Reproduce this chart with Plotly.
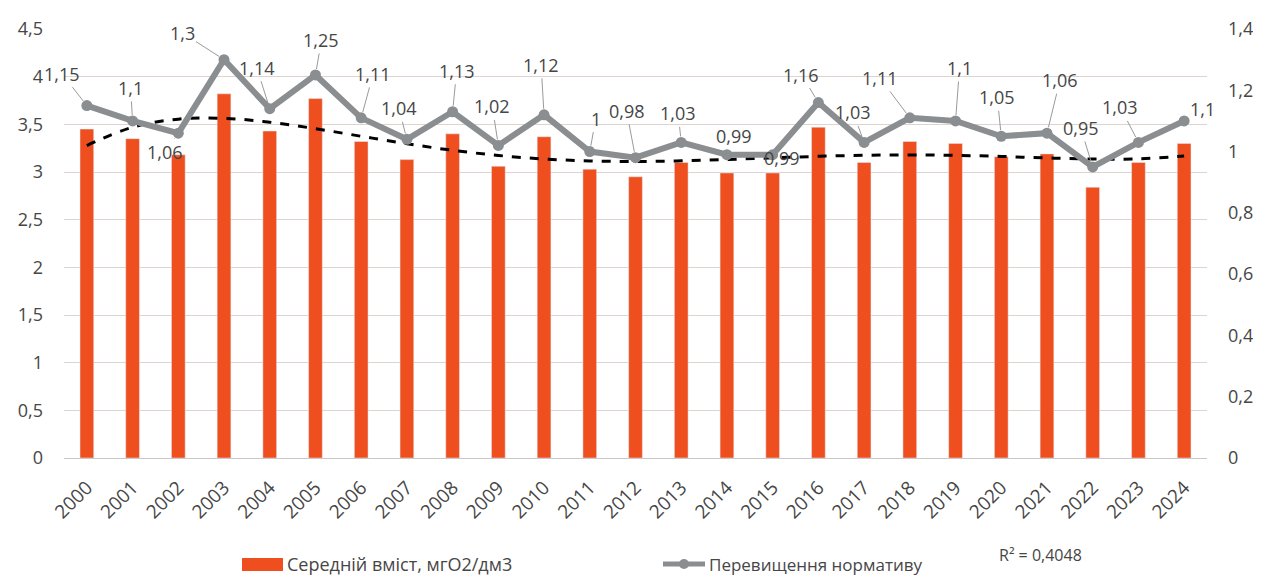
import numpy as np
import plotly.graph_objects as go

years = [str(y) for y in range(2000, 2025)]
avg_content = [3.45, 3.35, 3.18, 3.82, 3.43, 3.77, 3.32, 3.13, 3.40, 3.06, 3.37, 3.03, 2.95,
               3.10, 2.99, 2.99, 3.47, 3.10, 3.32, 3.30, 3.16, 3.19, 2.84, 3.10, 3.30]
exceedance = [1.15, 1.1, 1.06, 1.3, 1.14, 1.25, 1.11, 1.04, 1.13, 1.02, 1.12, 1, 0.98,
              1.03, 0.99, 0.99, 1.16, 1.03, 1.11, 1.1, 1.05, 1.06, 0.95, 1.03, 1.1]
left_ticks = [0, 0.5, 1, 1.5, 2, 2.5, 3, 3.5, 4, 4.5]
right_ticks = [0, 0.2, 0.4, 0.6, 0.8, 1, 1.2, 1.4]
legend_bar = "Середній вміст, мгО2/дм3"
legend_line = "Перевищення нормативу"
r2_label = "R² = 0,4048"

lab_dx = [-25, -2, -13, -42, -13, 6, 12, -8, 4, -6, -3, 6, -9, -3, 7, 9, -17, -11, -30, 4, -4, 13, -12, -18, 18]
lab_dy = [-32, -33, 19, -27, -41, -35, -44, -31, -41, -39, -50, -33, -47, -29, -19, 3, -28, -30, -40, -53, -39, -53, -39, -35, -12]

# polynomial (order 5) trendline fitted to the bar series, as in the spreadsheet
xi = np.arange(1, len(avg_content) + 1)
coef = np.polyfit(xi, np.array(avg_content), 5)
trend = np.polyval(coef, xi)

BAR = "#ef4f1f"
LINE = "#8a8e91"
TXT = "#464646"
FONT = "Open Sans"

fig = go.Figure()
fig.add_trace(go.Bar(x=years, y=avg_content, marker_color=BAR, name=legend_bar, yaxis="y"))
fig.add_trace(go.Scatter(x=years, y=exceedance, mode="lines+markers", yaxis="y2",
                         line=dict(color=LINE, width=6), marker=dict(size=11, color=LINE),
                         name=legend_line))
fig.add_trace(go.Scatter(x=years, y=trend, mode="lines", yaxis="y",
                         line=dict(color="black", width=3, dash="dash", shape="spline"),
                         name="trend"))

for i, (v, dx, dy) in enumerate(zip(exceedance, lab_dx, lab_dy)):
    fig.add_annotation(x=i, y=v, xref="x", yref="y2", text=f"{v:g}".replace(".", ","),
                       showarrow=True, ax=dx, ay=dy, arrowhead=0, arrowwidth=1,
                       arrowcolor="#9a9a9a", standoff=6,
                       font=dict(family=FONT, size=18, color=TXT))

def px_x(p):
    return (p - 64) / 1143
def px_y(p):
    return (458 - p) / 429

fig.add_shape(type="rect", xref="paper", yref="paper", x0=px_x(242), x1=px_x(283),
              y0=px_y(571), y1=px_y(558), fillcolor=BAR, line_width=0)
fig.add_annotation(xref="paper", yref="paper", x=px_x(285), y=px_y(564), xanchor="left",
                   yanchor="middle", showarrow=False, text=legend_bar,
                   font=dict(family=FONT, size=18, color=TXT))
fig.add_shape(type="line", xref="paper", yref="paper", x0=px_x(663), x1=px_x(705),
              y0=px_y(564), y1=px_y(564), line=dict(color=LINE, width=5))
fig.add_shape(type="circle", xref="paper", yref="paper", x0=px_x(679), x1=px_x(689),
              y0=px_y(569), y1=px_y(559), fillcolor=LINE, line_width=0)
fig.add_annotation(xref="paper", yref="paper", x=px_x(707), y=px_y(564), xanchor="left",
                   yanchor="middle", showarrow=False, text=legend_line,
                   font=dict(family=FONT, size=17, color=TXT))
fig.add_annotation(xref="paper", yref="paper", x=px_x(997), y=px_y(555), xanchor="left",
                   yanchor="middle", showarrow=False, text=r2_label,
                   font=dict(family=FONT, size=16, color=TXT))

fig.update_layout(
    width=1253, height=570,
    margin=dict(l=56, r=54, t=21, b=120, autoexpand=False),
    plot_bgcolor="white", paper_bgcolor="white",
    separators=", ",
    showlegend=False,
    bargap=0.7,
    font=dict(family=FONT, size=17, color=TXT),
    xaxis=dict(type="category", range=[-0.5, len(years) - 0.5], tickangle=-45,
               tickfont=dict(size=19, color=TXT), ticklabelstandoff=10,
               showgrid=False, showline=True, linecolor="#c8c8c8", ticks="",
               automargin=False),
    yaxis=dict(range=[0, 4.5], tickvals=left_ticks, showgrid=True, gridcolor="#ddd3cf",
               gridwidth=1, zeroline=False, tickfont=dict(size=18, color=TXT),
               ticks="", ticklabelstandoff=20, automargin=False),
    yaxis2=dict(range=[0, 1.4], tickvals=right_ticks, overlaying="y", side="right",
                showgrid=False, zeroline=False, tickfont=dict(size=18, color=TXT),
                ticks="", ticklabelstandoff=20, automargin=False),
)

fig.write_html("out.html")
